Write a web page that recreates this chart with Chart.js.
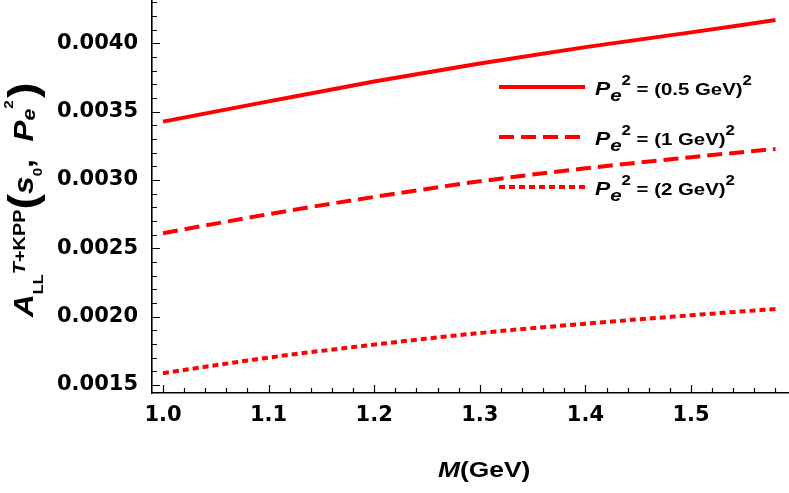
<!DOCTYPE html>
<html>
<head>
<meta charset="utf-8">
<script src="https://cdn.jsdelivr.net/npm/chart.js@4.4.1/dist/chart.umd.min.js"></script>
<style>
  html, body { margin: 0; background: #fff; }
  #wrap { width: 789px; height: 493px; position: relative; }
</style>
</head>
<body>
<div id="wrap"><canvas id="chart"></canvas></div>
<script>
// M (GeV) and the asymmetry for the three Pe^2 values
const masses = [1.0, 1.1, 1.2, 1.3, 1.4, 1.5, 1.58];
const asymPe05 = [0.003427, 0.003575, 0.003720, 0.003852, 0.003972, 0.004080, 0.004170];
const asymPe1 = [0.002610, 0.002750, 0.002876, 0.002990, 0.003085, 0.003167, 0.003227];
const asymPe2 = [0.001586, 0.001700, 0.001795, 0.001880, 0.001948, 0.002010, 0.002056];
const seriesGeV = ["0.5", "1", "2"];
const xTicks = [1.0, 1.1, 1.2, 1.3, 1.4, 1.5];
const yTicks = [0.0015, 0.0020, 0.0025, 0.0030, 0.0035, 0.0040];

const RED = "#ff0000";
const dashes = [[], [15, 7], [6, 4]];
const values = [asymPe05, asymPe1, asymPe2];

function pts(arr) { return masses.map((m, i) => ({x: m, y: arr[i]})); }

// draws a row of text pieces (sub/superscripts) along a baseline
function rich(ctx, runs, x, y, rot, stretch) {
  ctx.save();
  ctx.translate(x, y);
  ctx.rotate(rot);
  ctx.scale(stretch, 1);
  ctx.fillStyle = "#000";
  ctx.textBaseline = "alphabetic";
  let pos = 0;
  for (const r of runs) {
    ctx.font = (r.i ? "italic " : "") + "bold " + r.s + 'px "Liberation Sans", Arial, sans-serif';
    pos += r.gap || 0;
    ctx.fillText(r.t, pos, r.dy || 0);
    pos += ctx.measureText(r.t).width;
  }
  ctx.restore();
}

const tickMarks = {
  id: "tickMarks",
  afterDatasetsDraw(chart) {
    const {ctx, chartArea: a, scales: {x, y}} = chart;
    ctx.save();
    ctx.strokeStyle = "#000";
    ctx.lineWidth = 1.2;
    ctx.beginPath();
    for (let i = 0; i <= 35; i++) {
      const v = 0.96 + i * 0.02;
      if (v < x.min || v > x.max) continue;
      const px = Math.round(x.getPixelForValue(v)) + 0.5;
      const major = Math.abs(v * 10 - Math.round(v * 10)) < 1e-6;
      ctx.moveTo(px, a.bottom);
      ctx.lineTo(px, a.bottom - (major ? 8 : 5));
    }
    for (let i = 0; i <= 35; i++) {
      const v = 0.0010 + i * 0.0001;
      if (v < y.min || v > y.max) continue;
      const py = Math.round(y.getPixelForValue(v)) + 0.5;
      const major = Math.abs(v * 2000 - Math.round(v * 2000)) < 1e-6;
      ctx.moveTo(a.left, py);
      ctx.lineTo(a.left + (major ? 8 : 5), py);
    }
    ctx.stroke();
    ctx.restore();
  },
  afterDraw(chart) {
    const ctx = chart.ctx;
    // legend
    const rows = [87, 137, 187];
    chart.data.datasets.forEach((ds, k) => {
      ctx.save();
      ctx.strokeStyle = ds.borderColor;
      ctx.lineWidth = ds.borderWidth;
      ctx.setLineDash(ds.borderDash);
      ctx.beginPath();
      ctx.moveTo(499, rows[k]);
      ctx.lineTo(585, rows[k]);
      ctx.stroke();
      ctx.restore();
      rich(ctx, [
        {t: "P", s: 19, i: true},
        {t: "e", s: 17, i: true, dy: 6},
        {t: "2", s: 14, dy: -10},
        {t: " = (" + seriesGeV[k] + " GeV)", s: 17},
        {t: "2", s: 14, dy: -10}
      ], 595, rows[k] + 8, 0, 1.2);
    });
    // x title
    rich(ctx, [{t: "M", s: 22, i: true}, {t: "(GeV)", s: 22}], 438, 477, 0, 1.2);
    // y title
    rich(ctx, [
      {t: "A", s: 27, i: true},
      {t: "LL", s: 14, dy: 10},
      {t: "T", s: 17, i: true, dy: -8},
      {t: "+KPP", s: 17, dy: -8},
      {t: "(", s: 40, dy: 4},
      {t: "s", s: 27, i: true},
      {t: "0", s: 13, dy: 9},
      {t: ",  ", s: 27},
      {t: "P", s: 27, i: true},
      {t: "e", s: 18, i: true, dy: 2},
      {t: "2", s: 13, dy: -20},
      {t: ")", s: 40, dy: 4, gap: 2}
    ], 33, 317, -Math.PI / 2, 1.17);
  }
};

const tickFont = {family: "DejaVu Sans", weight: "bold", size: 21};

new Chart(document.getElementById("chart"), {
  type: "line",
  data: {
    datasets: values.map((arr, k) => ({
      label: "Pe2 = (" + seriesGeV[k] + " GeV)2",
      data: pts(arr),
      borderColor: RED,
      borderWidth: 4,
      borderDash: dashes[k],
      borderCapStyle: "butt",
      pointRadius: 0,
      fill: false,
      tension: 0.4,
      cubicInterpolationMode: "monotone"
    }))
  },
  options: {
    responsive: true,
    maintainAspectRatio: false,
    animation: false,
    layout: {padding: 0},
    plugins: {legend: {display: false}, tooltip: {enabled: false}},
    scales: {
      x: {
        type: "linear", min: 0.9896, max: 1.5928,
        grid: {display: false, drawTicks: false},
        border: {display: true, color: "#000", width: 1.6},
        ticks: {color: "#000", font: tickFont, padding: 10, autoSkip: false, maxRotation: 0,
          callback: v => v.toFixed(1)},
        afterBuildTicks: s => { s.ticks = xTicks.map(v => ({value: v})); },
        afterFit: s => { s.height = 100; s.paddingLeft = 0; s.paddingRight = 0; }
      },
      y: {
        type: "linear", min: 0.001441, max: 0.004317,
        grid: {display: false, drawTicks: false},
        border: {display: true, color: "#000", width: 1.6},
        ticks: {color: "#000", font: tickFont, padding: 14, autoSkip: false,
          callback: v => v.toFixed(4)},
        afterBuildTicks: s => { s.ticks = yTicks.map(v => ({value: v})); },
        afterFit: s => { s.width = 152; s.paddingTop = 0; s.paddingBottom = 0; }
      }
    }
  },
  plugins: [tickMarks]
});
</script>
</body>
</html>
